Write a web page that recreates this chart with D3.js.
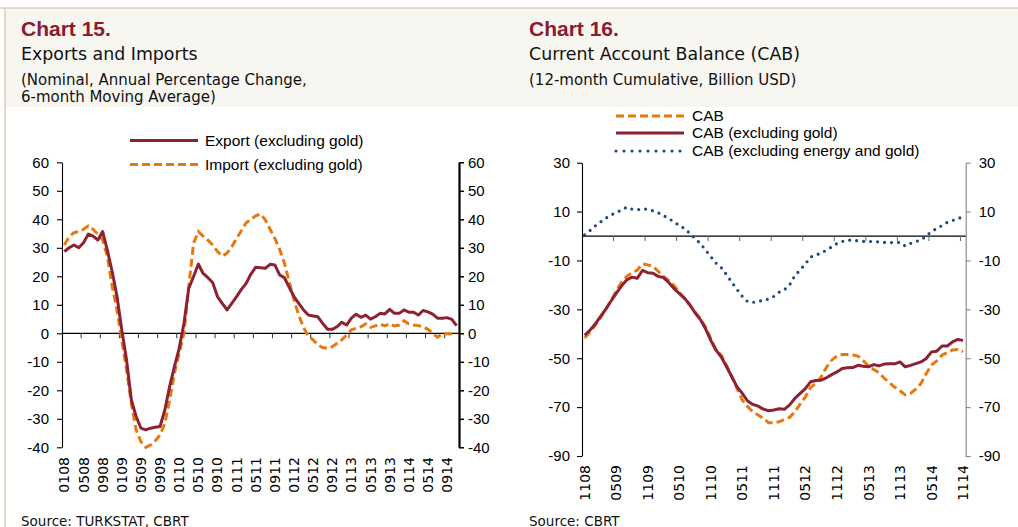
<!DOCTYPE html>
<html>
<head>
<meta charset="utf-8">
<script src="https://cdn.jsdelivr.net/npm/d3@7"></script>
<style>
  body { margin: 0; background: #fff; }
  svg { display: block; }
  .axis text { font-family: "Liberation Sans", Arial, sans-serif; font-size: 15px; fill: #000; }
  .gothic { font-family: "DejaVu Sans", sans-serif; }
  .arial { font-family: "Liberation Sans", Arial, sans-serif; }
</style>
</head>
<body>
<div id="chart"></div>
<script>
// ---- data: chart 15 (Jan 2008 - Nov 2014, monthly) ----
var monthsLeft = d3.timeMonth.range(new Date(2008, 0, 1), new Date(2014, 10, 2));
var exportVals = [28.7, 30, 31, 30, 31.8, 34.8, 34.1, 32.7, 35.7, 29, 21.6, 12.9, 1.2, -9.4, -23.4, -29.2,
  -33.3, -33.9, -33.3, -33, -32.7, -26.9, -18.7, -11.7, -5.3, 3.5, 15.8, 19.9, 24.3, 21, 19.5, 17.8,
  12.9, 10.5, 8.2, 10.5, 12.9, 15.4, 17.5, 20.8, 23.2, 23, 22.8, 24.2, 24, 20.5, 19.5, 16.1,
  12.9, 10.5, 8.2, 6.4, 6.1, 5.8, 3.5, 1.4, 1.4, 2.3, 3.9, 2.9, 5.3, 6.7, 5.6, 6.4,
  5, 5.8, 7, 6.8, 8.4, 7, 7, 8.2, 7.4, 7.4, 6.4, 8, 7.5, 6.7, 5.3, 5.3, 5.5, 4.9, 2.7];
var importVals = [31, 33.9, 35.3, 35.7, 36.5, 37.7, 36.5, 34.8, 32.7, 26.9, 16.4, 8.2, -2.3, -12.9, -24.6, -33.9,
  -38, -40, -39.2, -37.7, -35.7, -31.6, -23.4, -14, -7, 0, 16.4, 31.6, 35.7, 34.1, 32.7, 31,
  28.7, 27.1, 28.1, 30.4, 33.3, 36, 38.8, 40, 41.2, 41.9, 39.8, 36.5, 33.3, 29.5, 24.6, 18.1,
  11.7, 6.4, 2, -1, -2.3, -4.1, -5, -5.3, -4.7, -3.5, -2.3, -0.6, 1.2, 1.8, 2.3, 3.3,
  2.1, 2.6, 3.3, 2.6, 3.3, 2.6, 2.9, 4.4, 3.3, 2.9, 2.7, 2.3, 1.4, 0, -1.4, -0.2, -0.2, -0.2, 0];
var leftTickLabels = ["0108", "0508", "0908", "0109", "0509", "0909", "0110", "0510", "0910", "0111", "0511",
  "0911", "0112", "0512", "0912", "0113", "0513", "0913", "0114", "0514", "0914"];
var leftYTicks = [-40, -30, -20, -10, 0, 10, 20, 30, 40, 50, 60];
var leftSeriesNames = ["Export (excluding gold)", "Import (excluding gold)"];

// ---- data: chart 16 (Nov 2008 - Nov 2014, monthly) ----
var monthsRight = d3.timeMonth.range(new Date(2008, 10, 1), new Date(2014, 10, 2));
var cabVals = [-41.7, -39.3, -36.5, -33.5, -30, -26.5, -22.5, -19, -16.5, -15, -14, -11.4, -11.8, -12.4, -14.5, -16.5,
  -18.2, -20.2, -23, -25.5, -28.4, -31.1, -33.8, -37.2, -42, -46.7, -48.8, -52.9, -57.6, -62.4, -67.1, -69.8,
  -71.9, -73.2, -74.6, -76.4, -76.4, -76, -75.1, -74.2, -71.9, -68.8, -65.8, -61.9, -60.3, -57.6, -53.7, -50.8,
  -49.1, -48.5, -48.5, -48.7, -49.1, -51, -53.2, -54.6, -55.9, -58.2, -60, -61.9, -63.3, -65, -64.4, -62.7,
  -60.3, -56.2, -52.8, -51.1, -48.7, -47.7, -46.6, -46.4, -47.3];
var cabExGoldVals = [-40.6, -38.6, -36, -33, -30, -26.7, -23.5, -20.5, -18, -16.8, -17.3, -14.1, -15, -15.2, -16.5, -17,
  -19, -21.5, -23.5, -25.5, -28, -31.4, -34.1, -37.9, -42.7, -46.7, -49.5, -53.5, -57.6, -61.7, -64.4, -67.5,
  -68.9, -69.6, -70.8, -71.5, -71.2, -70.7, -70.9, -69.1, -66.4, -64.4, -62.4, -59.6, -59.1, -59, -58, -56.7,
  -55.6, -54.2, -53.9, -53.8, -52.9, -53.3, -53.5, -52.6, -53.1, -52.4, -52.3, -52.3, -51.5, -53.5, -52.9, -52.2,
  -51.5, -50.1, -47.4, -47.1, -45, -45, -43.3, -42.3, -42.7];
var cabExEnergyGoldVals = [0.5, 2.2, 4.1, 5.7, 7.2, 8.6, 9.6, 10.6, 11.8, 11, 10.7, 11.1, 11, 10.3, 9.5, 8.4,
  7.2, 5.8, 4.3, 3.1, 1.1, -1, -3, -5.7, -8.4, -11.1, -12.9, -15.8, -18.9, -21.9, -24.7, -26.8,
  -27.2, -26.6, -26.5, -25.7, -24.7, -23, -22, -20, -16.2, -13.9, -11.4, -8.6, -7.7, -7.1, -5.7, -4.5,
  -3.1, -2.2, -1.8, -1.6, -2, -2.2, -2.2, -2.3, -2.4, -2.6, -2.7, -2.7, -2.6, -4.1, -3, -2.3,
  -1.5, -0.1, 2, 3, 4.3, 5.6, 6.3, 7.3, 7.6];
var rightTickLabels = ["1108", "0509", "1109", "0510", "1110", "0511", "1111", "0512", "1112", "0513", "1113", "0514", "1114"];
var rightYTicks = [-90, -70, -50, -30, -10, 10, 30];
var rightSeriesNames = ["CAB", "CAB (excluding gold)", "CAB (excluding energy and gold)"];

var w = 1018,
    h = 527;
var maroon = '#8c2232',
    orange = '#e8780e',
    navy = '#1f4a80';
var fmt = d3.timeFormat('%m%y');
var plain = function(d) { return String(d); };   // hyphen minus like the original

var svg = d3.select('#chart')
            .append('svg')
            .attr('width', w)
            .attr('height', h);

// header panel + frame
svg.append('rect')
    .attr('x', 5).attr('y', 8)
    .attr('width', w - 5).attr('height', 99)
    .attr('fill', '#f7f6f1');
svg.append('line')
    .attr('x1', 0).attr('x2', w).attr('y1', 8).attr('y2', 8)
    .attr('stroke', '#d8ccb4').attr('stroke-width', 1.5);
svg.append('line')
    .attr('x1', 5).attr('x2', 5).attr('y1', 8).attr('y2', h)
    .attr('stroke', '#d8ccb4').attr('stroke-width', 1.5);

function titles(x, num, title, subs, source) {
  svg.append('text')
      .attr('class', 'arial')
      .attr('x', x).attr('y', 36)
      .attr('font-size', '21px')
      .attr('font-weight', 'bold')
      .attr('fill', '#8b1b2e')
      .text(num);
  svg.append('text')
      .attr('class', 'gothic')
      .attr('x', x).attr('y', 60)
      .attr('font-size', '17.4px')
      .attr('fill', '#111')
      .text(title);
  subs.forEach(function(s, i) {
    svg.append('text')
        .attr('class', 'gothic')
        .attr('x', x).attr('y', 85 + i * 17)
        .attr('font-size', '15px')
        .attr('fill', '#111')
        .text(s);
  });
  svg.append('text')
      .attr('class', 'gothic')
      .attr('x', x).attr('y', 525.5)
      .attr('font-size', '13.5px')
      .attr('fill', '#111')
      .text(source);
}

titles(21, 'Chart 15.', 'Exports and Imports',
  ['(Nominal, Annual Percentage Change,', '6-month Moving Average)'], 'Source: TURKSTAT, CBRT');
titles(529, 'Chart 16.', 'Current Account Balance (CAB)',
  ['(12-month Cumulative, Billion USD)'], 'Source: CBRT');

// ================= Chart 15 =================
var xL = d3.scaleBand().domain(monthsLeft).range([62, 459]);
var yL = d3.scaleLinear().domain([-40, 60]).range([447.3, 162.3]);
var bwL = xL.bandwidth();

var gL = svg.append('g').attr('class', 'axis')
    .attr('transform', 'translate(62,0)')
    .call(d3.axisLeft(yL).tickValues(leftYTicks).tickFormat(plain).tickSize(5).tickSizeOuter(0).tickPadding(8));
gL.selectAll('line, path').attr('stroke', '#000').attr('stroke-width', 1.1);

var gL2 = svg.append('g').attr('class', 'axis')
    .attr('transform', 'translate(459,0)')
    .call(d3.axisRight(yL).tickValues(leftYTicks).tickFormat(plain).tickSize(5).tickSizeOuter(0).tickPadding(4));
gL2.select('path').attr('stroke', '#000').attr('stroke-width', 2.2);
gL2.selectAll('line').attr('stroke', '#000').attr('stroke-width', 1.5);

// zero line with category ticks
svg.append('line')
    .attr('x1', 62).attr('x2', 459)
    .attr('y1', yL(0)).attr('y2', yL(0))
    .attr('stroke', '#000').attr('stroke-width', 1.3);
svg.selectAll('.tickL')
    .data(monthsLeft.filter(function(d, i) { return i > 0 && i % 4 === 0; }))
    .enter()
    .append('line')
    .attr('x1', function(d) { return xL(d); })
    .attr('x2', function(d) { return xL(d); })
    .attr('y1', yL(0)).attr('y2', yL(0) + 5)
    .attr('stroke', '#333');

svg.selectAll('.labL')
    .data(monthsLeft.filter(function(d) { return leftTickLabels.indexOf(fmt(d)) >= 0; }))
    .enter()
    .append('text')
    .attr('class', 'gothic')
    .attr('font-size', '14px')
    .attr('text-anchor', 'end')
    .attr('dy', '0.36em')
    .attr('transform', function(d) { return 'translate(' + (xL(d) + bwL / 2) + ',457) rotate(-90)'; })
    .text(function(d) { return fmt(d); });

var lineL = d3.line()
    .x(function(d, i) { return xL(monthsLeft[i]) + bwL / 2; })
    .y(function(d) { return yL(d); });

svg.append('path')
    .attr('d', lineL(importVals))
    .attr('fill', 'none')
    .attr('stroke', orange)
    .attr('stroke-width', 3)
    .attr('stroke-dasharray', '8,4');
svg.append('path')
    .attr('d', lineL(exportVals))
    .attr('fill', 'none')
    .attr('stroke', maroon)
    .attr('stroke-width', 3)
    .attr('stroke-linejoin', 'round');

// legend
var legL = [{ name: leftSeriesNames[0], color: maroon, dash: null, y: 140.5 },
            { name: leftSeriesNames[1], color: orange, dash: '8,4', y: 164.5 }];
legL.forEach(function(d) {
  svg.append('line')
      .attr('x1', 130).attr('x2', 198).attr('y1', d.y).attr('y2', d.y)
      .attr('stroke', d.color).attr('stroke-width', 3)
      .attr('stroke-dasharray', d.dash);
  svg.append('text')
      .attr('class', 'arial')
      .attr('x', 205).attr('y', d.y)
      .attr('dy', '0.35em')
      .attr('font-size', '15.5px')
      .text(d.name);
});

// ================= Chart 16 =================
var xR = d3.scaleBand().domain(monthsRight).range([582, 965.7]);
var yR = d3.scaleLinear().domain([-90, 30]).range([456, 162.7]);
var bwR = xR.bandwidth();

var gR = svg.append('g').attr('class', 'axis')
    .attr('transform', 'translate(582,0)')
    .call(d3.axisLeft(yR).tickValues(rightYTicks).tickFormat(plain).tickSize(5).tickSizeOuter(0).tickPadding(7));
gR.selectAll('line, path').attr('stroke', '#000').attr('stroke-width', 1.1);

var gR2 = svg.append('g').attr('class', 'axis')
    .attr('transform', 'translate(965.7,0)')
    .call(d3.axisRight(yR).tickValues(rightYTicks).tickFormat(plain).tickSize(5).tickSizeOuter(0).tickPadding(8));
gR2.selectAll('line, path').attr('stroke', '#858585').attr('stroke-width', 1.1);

svg.append('line')
    .attr('x1', 582).attr('x2', 965.7)
    .attr('y1', yR(0)).attr('y2', yR(0))
    .attr('stroke', '#000').attr('stroke-width', 1.3);
svg.selectAll('.tickR')
    .data(monthsRight.filter(function(d, i) { return i > 0 && i % 6 === 0; }))
    .enter()
    .append('line')
    .attr('x1', function(d) { return xR(d); })
    .attr('x2', function(d) { return xR(d); })
    .attr('y1', yR(0)).attr('y2', yR(0) + 5)
    .attr('stroke', '#666');

svg.selectAll('.labR')
    .data(monthsRight.filter(function(d, i) { return i % 6 === 0 && rightTickLabels.indexOf(fmt(d)) >= 0; }))
    .enter()
    .append('text')
    .attr('class', 'gothic')
    .attr('font-size', '14px')
    .attr('text-anchor', 'end')
    .attr('dy', '0.36em')
    .attr('transform', function(d) { return 'translate(' + (xR(d) + bwR / 2) + ',465) rotate(-90)'; })
    .text(function(d) { return fmt(d); });

var lineR = d3.line()
    .x(function(d, i) { return xR(monthsRight[i]) + bwR / 2; })
    .y(function(d) { return yR(d); });

svg.append('path')
    .attr('d', lineR(cabExEnergyGoldVals))
    .attr('fill', 'none')
    .attr('stroke', navy)
    .attr('stroke-width', 3.2)
    .attr('stroke-linecap', 'round')
    .attr('stroke-dasharray', '0,7');
svg.append('path')
    .attr('d', lineR(cabVals))
    .attr('fill', 'none')
    .attr('stroke', orange)
    .attr('stroke-width', 3)
    .attr('stroke-dasharray', '8,4');
svg.append('path')
    .attr('d', lineR(cabExGoldVals))
    .attr('fill', 'none')
    .attr('stroke', maroon)
    .attr('stroke-width', 3)
    .attr('stroke-linejoin', 'round');

var legR = [{ name: rightSeriesNames[0], color: orange, dash: '8,4', cap: 'butt', y: 116 },
            { name: rightSeriesNames[1], color: maroon, dash: null, cap: 'butt', y: 133 },
            { name: rightSeriesNames[2], color: navy, dash: '0,8', cap: 'round', y: 151 }];
legR.forEach(function(d) {
  svg.append('line')
      .attr('x1', 616).attr('x2', 684).attr('y1', d.y).attr('y2', d.y)
      .attr('stroke', d.color).attr('stroke-width', d.cap === 'round' ? 3.2 : 3)
      .attr('stroke-linecap', d.cap)
      .attr('stroke-dasharray', d.dash);
  svg.append('text')
      .attr('class', 'arial')
      .attr('x', 692).attr('y', d.y)
      .attr('dy', '0.35em')
      .attr('font-size', '15.5px')
      .text(d.name);
});
</script>
</body>
</html>
